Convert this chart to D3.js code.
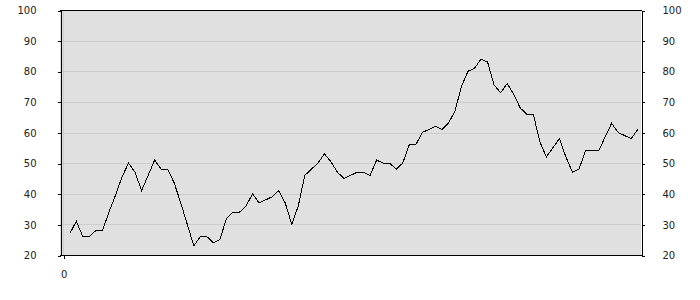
<!DOCTYPE html>
<html>
<head>
<meta charset="utf-8">
<script src="https://cdn.jsdelivr.net/npm/d3@7/dist/d3.min.js"></script>
<style>
  body { margin: 0; background: #fff; }
  .tick text { font-family: "DejaVu Sans", Verdana, sans-serif; font-size: 10px; fill: #222; }
</style>
</head>
<body>
<div class="chart"></div>
<script>
var width = 700;
var height = 300;

// series values (x = 1..88)
var values = [27, 31, 26, 26, 28, 28, 34, 39.5, 45.5, 50,
  47, 41, 46, 51, 48, 48, 43.5, 37, 30, 23,
  26, 26, 24, 25, 32, 34, 34, 36, 40, 37,
  38, 39, 41, 37, 30, 36, 46, 48, 50, 53,
  50.5, 47, 45, 46, 47, 47, 46, 51, 50, 50,
  48, 50, 56, 56, 60, 61, 62, 61, 63, 67,
  75, 80, 81, 84, 83, 75.5, 73, 76, 72.5, 68,
  66, 66, 57, 52, 55, 58, 52, 47, 48, 54,
  54, 54, 58.5, 63, 60, 59, 58, 61];
var yTicks = [20, 30, 40, 50, 60, 70, 80, 90, 100];
var xTicks = [0];

var plotLeft = 60, plotRight = 641, plotTop = 10, plotBottom = 255;

var svg = d3.select(".chart")
  .append("svg")
  .attr("width", width)
  .attr("height", height);

var x = d3.scaleLinear()
    .domain([-0.5, values.length + 0.5])
    .range([plotLeft, plotRight]);

var y = d3.scaleLinear()
    .domain([20, 100])
    .range([plotBottom, plotTop]);

svg.append("rect")
  .attr("x", plotLeft)
  .attr("y", plotTop)
  .attr("width", plotRight - plotLeft)
  .attr("height", plotBottom - plotTop)
  .attr("fill", "#e0e0e0");

// grid
svg.append("g")
  .selectAll("line")
  .data(yTicks.slice(1, -1))
  .enter().append("line")
    .attr("x1", plotLeft).attr("x2", plotRight)
    .attr("y1", function(d) { return Math.round(y(d)) + 0.5; })
    .attr("y2", function(d) { return Math.round(y(d)) + 0.5; })
    .attr("stroke", "#cdcdcd")
    .attr("shape-rendering", "crispEdges");

svg.append("g")
  .selectAll("line")
  .data(xTicks)
  .enter().append("line")
    .attr("y1", plotTop).attr("y2", plotBottom)
    .attr("x1", function(d) { return Math.round(x(d)) + 0.5; })
    .attr("x2", function(d) { return Math.round(x(d)) + 0.5; })
    .attr("stroke", "#cdcdcd")
    .attr("shape-rendering", "crispEdges");

var line = d3.line()
    .x(function(d, i) { return x(i + 1); })
    .y(function(d) { return y(d); });

svg.append("path")
  .datum(values)
  .attr("fill", "none")
  .attr("stroke", "#000")
  .attr("stroke-width", 1)
  .attr("shape-rendering", "crispEdges")
  .attr("d", line);

// axes
var yLeft = d3.axisLeft(y).tickValues(yTicks).tickSize(3).tickPadding(21).tickSizeOuter(0);
var yRight = d3.axisRight(y).tickValues(yTicks).tickSize(3).tickPadding(18).tickSizeOuter(0);
var xBottom = d3.axisBottom(x).tickValues(xTicks).tickSize(3).tickPadding(12).tickSizeOuter(0);

svg.append("g").attr("transform", "translate(" + (plotLeft + 0.5) + ",0.5)").call(yLeft);
svg.append("g").attr("transform", "translate(" + (plotRight + 0.5) + ",0.5)").call(yRight);
svg.append("g").attr("transform", "translate(0.5," + (plotBottom + 0.5) + ")").call(xBottom)
  .select(".domain").remove();

svg.append("line")
  .attr("x1", plotLeft).attr("x2", plotRight + 1)
  .attr("y1", plotTop + 0.5).attr("y2", plotTop + 0.5)
  .attr("stroke", "#000");
svg.append("line")
  .attr("x1", plotLeft).attr("x2", plotRight + 1)
  .attr("y1", plotBottom + 0.5).attr("y2", plotBottom + 0.5)
  .attr("stroke", "#000");

svg.selectAll(".domain, .tick line").attr("stroke", "#000").attr("shape-rendering", "crispEdges");
</script>
</body>
</html>
